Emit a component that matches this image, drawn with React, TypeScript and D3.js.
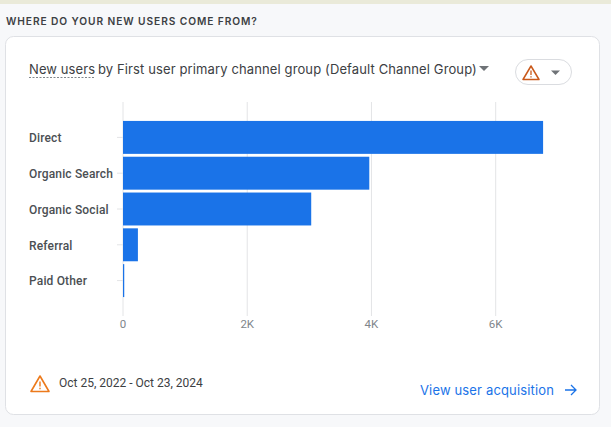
import React from "react";
import * as d3 from "d3";

const categories = ["Direct", "Organic Search", "Organic Social", "Referral", "Paid Other"];
const newUsers = [6763, 3965, 3030, 240, 20];
const xTicks = [0, 2000, 4000, 6000];
const tickLabels = ["0", "2K", "4K", "6K"];

const W = 611;
const H = 427;
const FONT = "Roboto, sans-serif";
const HEAD = "Inter, 'Open Sans', sans-serif";

export default function App() {
  const x = d3.scaleLinear().domain([0, 6000]).range([123, 495.7]);
  const y = d3.scaleBand<string>().domain(categories).range([119.5, 298.5]).paddingInner(0.08).paddingOuter(0.04);
  return (
    <svg width={W} height={H} style={{ position: "absolute", left: 0, top: 0, display: "block" }}>
      <rect width={W} height={H} fill="#f7f8fa" />
      <rect width={W} height={4} fill="#eaead9" />
      <text x={6} y={25} fontFamily={HEAD} fontSize={10.2} fontWeight={600} fill="#3c4043" letterSpacing={0.92}>
        WHERE DO YOUR NEW USERS COME FROM?
      </text>
      <rect x={5.5} y={36.5} width={594} height={378} rx={8} fill="#ffffff" stroke="#dfe1e5" />
      <text x={29} y={74} fontFamily={HEAD} fontSize={13} fill="#3c4043" letterSpacing={0.1}>
        New users
      </text>
      <line x1={29} x2={95} y1={77.5} y2={77.5} stroke="#80868b" strokeDasharray="2 1.5" />
      <text x={98} y={74} fontFamily={HEAD} fontSize={13} fill="#3c4043" letterSpacing={0.12}>
        by First user primary channel group (Default Channel Group)
      </text>
      <path d="M479 66h10l-5 5z" fill="#6f7377" />
      <rect x={515.5} y={59.5} width={56} height={25} rx={12.5} fill="#fff" stroke="#dadce0" />
      <path d="M531 66l8 13.5h-16z" fill="none" stroke="#c9591b" strokeWidth={1.5} strokeLinejoin="round" />
      <path d="M531 70.5v4.5M531 76.3v1.3" stroke="#c9591b" strokeWidth={1.3} />
      <path d="M551 70.5h9l-4.5 4.5z" fill="#6f7377" />

      {xTicks.map((t) => (
        <line key={t} x1={x(t)} x2={x(t)} y1={102} y2={316} stroke="#e3e4e6" strokeWidth={1} />
      ))}
      {categories.map((c) => (
        <line key={c} x1={117} x2={123} y1={y(c)! + y.bandwidth() / 2} y2={y(c)! + y.bandwidth() / 2} stroke="#e3e4e6" />
      ))}
      {categories.map((c, i) => (
        <rect key={c} x={x(0)} y={y(c)!} width={x(newUsers[i]) - x(0)} height={y.bandwidth()} fill="#1a73e8" />
      ))}
      {categories.map((c) => (
        <text key={c} x={29} y={y(c)! + y.bandwidth() / 2 + 4.8} fontFamily={FONT} fontSize={12} fontWeight={500} fill="#4b4f53" letterSpacing={0.16}>
          {c}
        </text>
      ))}
      {xTicks.map((t, i) => (
        <text key={t} x={x(t)} y={328} textAnchor="middle" fontFamily={FONT} fontSize={11.5} fill="#80868b">
          {tickLabels[i]}
        </text>
      ))}

      <path d="M40 376l9 15.5h-18z" fill="none" stroke="#ec7a1c" strokeWidth={1.6} strokeLinejoin="round" />
      <path d="M40 381.5v5M40 387.7v1.5" stroke="#ec7a1c" strokeWidth={1.4} />
      <text x={59} y={387} fontFamily={FONT} fontSize={12} fill="#3c4043">
        Oct 25, 2022 - Oct 23, 2024
      </text>
      <text x={420} y={395} fontFamily={HEAD} fontSize={13} fill="#1a73e8" letterSpacing={0.15}>
        View user acquisition
      </text>
      <path d="M565 390h10.5M571 385l5 5-5 5" fill="none" stroke="#1a73e8" strokeWidth={1.3} />
    </svg>
  );
}
